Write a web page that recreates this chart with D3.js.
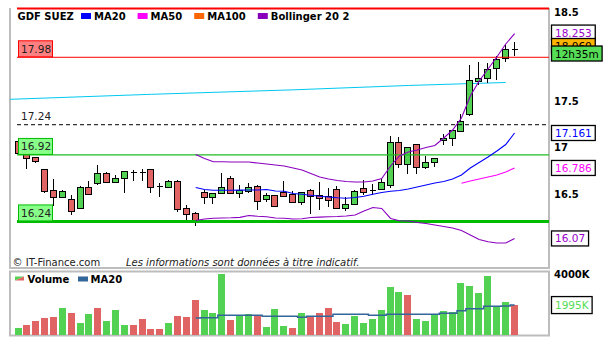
<!DOCTYPE html>
<html><head><meta charset="utf-8">
<script src="https://cdn.jsdelivr.net/npm/d3@7/dist/d3.min.js"></script>
<style>body{margin:0;background:#fff}svg{display:block}text{font-family:"DejaVu Sans",Verdana,sans-serif}</style>
</head><body><svg id="c" width="608" height="350"></svg>
<script>
// ---- data ----
const opens  = [17.070,16.938,16.895,16.766,16.540,16.468,16.443,16.346,16.572,16.621,
                16.726,16.632,16.669,16.737,16.737,16.766,16.583,16.572,16.640,16.346,
                16.292,16.518,16.464,16.508,16.669,16.508,16.532,16.586,16.443,16.486,
                16.525,16.500,16.417,16.543,16.486,16.478,16.550,16.353,16.389,16.561,
                16.543,16.550,16.597,17.062,16.819,17.034,16.787,16.841,17.077,17.099,
                17.181,17.357,17.718,17.744,17.852,17.959,18.059];
const highs  = [17.081,16.941,16.898,16.769,16.661,16.543,16.486,16.586,16.640,16.815,
                16.737,16.704,16.744,16.758,16.766,16.766,16.618,16.651,16.651,16.382,
                16.310,16.543,16.508,16.729,16.694,16.597,16.621,16.597,16.508,16.486,
                16.640,16.532,16.518,16.554,16.629,16.561,16.586,16.471,16.543,16.651,
                16.604,16.658,17.124,17.110,17.000,17.034,16.909,16.884,17.142,17.188,
                17.360,17.887,17.919,17.912,17.984,18.102,18.131];
const lows   = [16.930,16.766,16.837,16.508,16.371,16.468,16.271,16.346,16.497,16.597,
                16.626,16.626,16.508,16.643,16.643,16.514,16.471,16.572,16.310,16.185,
                16.156,16.392,16.392,16.508,16.497,16.460,16.514,16.328,16.417,16.374,
                16.482,16.411,16.385,16.282,16.328,16.357,16.339,16.320,16.389,16.489,
                16.489,16.550,16.561,16.776,16.710,16.712,16.772,16.794,17.027,17.016,
                17.170,17.339,17.672,17.697,17.726,17.923,17.984];
const closes = [16.941,16.884,16.855,16.532,16.471,16.532,16.314,16.572,16.497,16.723,
                16.626,16.669,16.744,16.737,16.737,16.578,16.583,16.640,16.342,16.282,
                16.202,16.464,16.508,16.578,16.508,16.543,16.578,16.428,16.486,16.374,
                16.482,16.411,16.518,16.482,16.460,16.435,16.353,16.389,16.532,16.525,
                16.543,16.626,17.062,16.819,17.000,16.787,16.841,16.884,17.105,17.188,
                17.285,17.726,17.744,17.841,17.952,18.056,18.059];
const volumes = [480,680,940,1140,1210,1800,1470,810,1410,1800,
                 940,1670,680,680,1080,420,420,810,1270,1210,
                 2330,1670,1470,4050,1010,1270,1410,1270,550,1740,
                 610,480,1470,1270,1470,1800,880,750,1270,810,
                 1080,1670,3190,2860,2660,1080,940,1410,1600,1540,
                 3450,3250,2790,3920,1930,2200,2000];
const volDir = "udddduduuduuudddduddduuuduuduuududddduuuuuuuduuuuuuuuuuu".split("");
// indicators start at bar 20
const indStart = 20;
const ma20 = [16.570,16.548,16.540,16.540,16.541,16.542,16.543,16.543,16.548,16.532,
              16.529,16.505,16.498,16.487,16.476,16.468,16.459,16.455,16.462,16.476,
              16.498,16.516,16.530,16.538,16.554,16.575,16.597,16.618,16.634,16.661,
              16.704,16.780,16.839,16.898,16.962,17.032,17.156];
const bollUp = [16.925,16.882,16.847,16.846,16.844,16.844,16.844,16.833,16.823,16.812,
                16.801,16.780,16.758,16.720,16.683,16.661,16.645,16.634,16.629,16.629,
                16.640,16.667,16.801,16.909,16.952,16.973,17.000,17.022,17.102,17.188,
                17.317,17.554,17.715,17.844,17.973,18.113,18.225];
const bollLow = [16.215,16.231,16.240,16.242,16.244,16.249,16.269,16.260,16.256,16.242,
                 16.239,16.231,16.234,16.247,16.251,16.256,16.258,16.263,16.274,16.317,
                 16.355,16.344,16.237,16.213,16.210,16.194,16.183,16.167,16.151,16.134,
                 16.108,16.059,16.011,15.987,15.973,15.973,16.022];
const ma50Start = 50;
const ma50 = [16.615,16.640,16.661,16.683,16.704,16.737,16.780];
const longIdx = [-1,15,31,44,55];
const longVal = [17.518,17.572,17.620,17.667,17.699];
const volMa = [1140,1160,1160,1320,1320,1320,1320,1320,1250,1250,
               1250,1250,1190,1250,1250,1250,1390,1390,1390,1390,
               1320,1320,1390,1390,1390,1390,1390,1390,1450,1450,
               1620,1760,1760,1910,1910,1930,1995];
const tickVals = [18.5,17.5,17,16.5];
const tickLabels = ["18.5","17.5","17","16.5"];
const levelLabels = ["17.98","17.24","16.92","16.24"];
const levelValues = [17.97,17.245,16.92,16.205];
const topLevel = 18.5;
const lastPrice = "18.060";
const timeLabel = "12h35m";
const volTick = 4000;
const legendNames = ["MA20","MA50","MA100","Bollinger 20 2"];

// ---- drawing ----
const svg = d3.select("#c");
const UP = "#52d152", DN = "#e06464";
const x = d3.scaleLinear().domain([0,56]).range([18.5,514.6]);
const y = d3.scaleLinear().domain([16,18.5]).range([240.5,8]);
const yv = d3.scaleLinear().domain([0,4000]).range([335.3,274.7]);
const L = 10, R = 549, T = 8, B = 268;

const defs = svg.append("defs");
defs.append("clipPath").attr("id","clip")
  .append("rect").attr("x",L).attr("y",T-2).attr("width",R-L).attr("height",B-T+2);

// borders
svg.append("path").attr("d",`M${L},${T}V${B}H${R}V${T}`).attr("fill","none")
  .attr("stroke","#bdbdbd").attr("stroke-width",2);

const plot = svg.append("g").attr("clip-path","url(#clip)");

// long MA (cyan)
const ln = d3.line().x(d=>x(d[0])).y(d=>y(d[1]));
plot.append("path").datum(longIdx.map((d,k)=>[d,longVal[k]])).attr("d",ln)
  .attr("fill","none").attr("stroke","#00c8f0").attr("stroke-width",1);

// candles
const bars = d3.range(opens.length);
const cg = plot.append("g").attr("shape-rendering","crispEdges");
bars.forEach(i=>{
  const cx = Math.round(x(i)) - 0.5;
  const o=opens[i], c=closes[i];
  cg.append("line").attr("x1",cx).attr("x2",cx).attr("y1",y(highs[i])).attr("y2",y(lows[i]))
    .attr("stroke","#000").attr("stroke-width",1);
  if (Math.abs(o-c) < 0.004) {
    cg.append("line").attr("x1",cx-3).attr("x2",cx+3).attr("y1",Math.round(y(o))+0.5).attr("y2",Math.round(y(o))+0.5)
      .attr("stroke","#000").attr("stroke-width",1.6);
  } else {
    const top = Math.round(y(Math.max(o,c)))+0.5, bot = Math.round(y(Math.min(o,c)))+0.5;
    cg.append("rect").attr("x",cx-3).attr("y",top).attr("width",6).attr("height",Math.max(1,bot-top))
      .attr("fill", c>o?UP:DN).attr("stroke","#000").attr("stroke-width",1);
  }
});

// level lines
const lvStyle = [
  {stroke:"#ff0000", w:1, dash:null},
  {stroke:"#000000", w:1, dash:"4,3"},
  {stroke:"#22bb22", w:1.2, dash:null},
  {stroke:"#00bb00", w:3, dash:null}];
plot.append("line").attr("x1",17).attr("x2",R).attr("y1",y(topLevel)+0.5).attr("y2",y(topLevel)+0.5)
  .attr("stroke","#ff0000").attr("stroke-width",2);
levelValues.forEach((v,k)=>{
  const s=lvStyle[k];
  plot.append("line").attr("x1",17).attr("x2",R).attr("y1",y(v)).attr("y2",y(v))
    .attr("stroke",s.stroke).attr("stroke-width",s.w).attr("stroke-dasharray",s.dash);
});

// bands and MAs
const seg = (arr,start)=>arr.map((v,k)=>[start+k,v]);
const lineStyle = (p,col)=>p.attr("fill","none").attr("stroke",col).attr("stroke-width",1.1);
lineStyle(plot.append("path").datum(seg(bollUp,indStart)).attr("d",ln),"#8a00c0");
lineStyle(plot.append("path").datum(seg(bollLow,indStart)).attr("d",ln),"#8a00c0");
lineStyle(plot.append("path").datum(seg(ma20,indStart)).attr("d",ln),"#0000ff");
lineStyle(plot.append("path").datum(seg(ma50,ma50Start)).attr("d",ln),"#ff00ff");

// level boxes
const boxStyle = [
  {fill:"#ff8080", stroke:"#ff0000"}, null,
  {fill:"#88ff88", stroke:"#00bb00"},
  {fill:"#88ff88", stroke:"#00bb00"}];
levelValues.forEach((v,k)=>{
  const yy = y(v);
  if (boxStyle[k]) {
    svg.append("rect").attr("x",18.5).attr("y",yy-16.5).attr("width",34).attr("height",16)
      .attr("fill",boxStyle[k].fill).attr("stroke",boxStyle[k].stroke).attr("stroke-width",1);
  }
  svg.append("text").attr("x",21).attr("y",yy-4.5).attr("font-size",10.5).attr("fill","#222").text(levelLabels[k]);
});

// y axis
const ax = svg.append("g").attr("transform",`translate(${R},0)`)
  .call(d3.axisRight(y).tickValues(tickVals).tickFormat((d,k)=>tickLabels[k]).tickSize(0).tickPadding(5));
ax.select(".domain").remove();
ax.selectAll("text").attr("font-family",'"DejaVu Sans",Verdana,sans-serif').attr("font-size",10)
  .attr("font-weight","bold").attr("fill","#000").attr("dy",d=>d===18.5?"0.76em":"0.32em");

// right value boxes
function valBox(yc, txt, col, fill, clipId){
  const g = svg.append("g");
  const r = g.append("rect").attr("x",551.5).attr("y",yc-7.5).attr("height",15)
    .attr("fill",fill).attr("stroke","#000").attr("stroke-width",1.3);
  const t = g.append("text").attr("x",555).attr("y",yc+4).attr("font-size",10.5).attr("fill",col).text(txt);
  r.attr("width", t.node().getComputedTextLength()+7);
  if (clipId) t.attr("clip-path",`url(#${clipId})`);
}
const yLast = y(closes[closes.length-1]);
defs.append("clipPath").attr("id","lastclip").append("rect")
  .attr("x",550).attr("y",yLast-12).attr("width",50).attr("height",9);
valBox(y(bollUp[bollUp.length-1])-1, d3.format(".3f")(18.253), "#9900cc", "#fff");
valBox(yLast-3, lastPrice, "#000", "#ffb400", "lastclip");
valBox(yLast+4.5, timeLabel, "#000", "#55dd55");
valBox(y(ma20[ma20.length-1]), "17.161", "#0000ff", "#fff");
valBox(y(ma50[ma50.length-1]), "16.786", "#ff00ff", "#fff");
valBox(y(bollLow[bollLow.length-1]), "16.07", "#9900cc", "#fff");

// legend
const lg = svg.append("g").attr("font-size",10).attr("font-weight","bold");
lg.append("text").attr("x",17.5).attr("y",19.5).text("GDF SUEZ");
const legCols = ["#0000ff","#ff00ff","#ff6600","#8800bb"];
let lx = 81;
legendNames.forEach((n,k)=>{
  lg.append("rect").attr("x",lx).attr("y",13).attr("width",10).attr("height",6).attr("fill",legCols[k]);
  const t = lg.append("text").attr("x",lx+13).attr("y",19.5).text(n);
  lx += 13 + t.node().getComputedTextLength() + 12;
});

// footer
svg.append("text").attr("x",12.5).attr("y",265.5).attr("font-size",10).attr("fill","#222").text("© IT-Finance.com");
svg.append("text").attr("x",126).attr("y",265.5).attr("font-size",10).attr("font-style","italic").attr("fill","#222")
  .text("Les informations sont données à titre indicatif.");

// ---- volume panel ----
svg.append("rect").attr("x",L).attr("y",271.5).attr("width",R-L).attr("height",64)
  .attr("fill","none").attr("stroke","#bdbdbd").attr("stroke-width",2);
svg.append("g").attr("shape-rendering","crispEdges").selectAll("rect").data(bars).join("rect")
  .attr("x",i=>Math.round(x(i))-4).attr("width",7)
  .attr("y",i=>yv(volumes[i])).attr("height",i=>yv(0)-yv(volumes[i]))
  .attr("fill",i=>volDir[i]==="u"?UP:DN);
svg.append("path").datum(seg(volMa,indStart))
  .attr("d",d3.line().x(d=>x(d[0])).y(d=>yv(d[1])).curve(d3.curveStep))
  .attr("fill","none").attr("stroke","#336699").attr("stroke-width",1.5);
const vax = svg.append("g").attr("transform",`translate(${R},0)`)
  .call(d3.axisRight(yv).tickValues([volTick]).tickFormat(d=>d+"K").tickSize(0).tickPadding(5));
vax.select(".domain").remove();
vax.selectAll("text").attr("font-family",'"DejaVu Sans",Verdana,sans-serif').attr("font-size",10)
  .attr("font-weight","bold").attr("fill","#000");
(function(){
  const yc = yv(volMa[volMa.length-1]);
  const r = svg.append("rect").attr("x",551.5).attr("y",yc-8.5).attr("height",17)
    .attr("fill","#fff").attr("stroke","#000").attr("stroke-width",1.3);
  const t = svg.append("text").attr("x",555).attr("y",yc+4).attr("font-size",10.5).attr("fill","#55dd55").text(volMa[volMa.length-1]+"K");
  r.attr("width", t.node().getComputedTextLength()+7);
})();
// volume legend
svg.append("path").attr("d","M15,276.5h9l-9,4z").attr("fill",UP);
svg.append("path").attr("d","M24,276.5v4h-9z").attr("fill",DN);
svg.append("text").attr("x",27.5).attr("y",282.5).attr("font-size",10).attr("font-weight","bold").text("Volume");
svg.append("rect").attr("x",78).attr("y",276.5).attr("width",10).attr("height",5).attr("fill","#336699");
svg.append("text").attr("x",90.5).attr("y",282.5).attr("font-size",10).attr("font-weight","bold").text("MA20");
</script></body></html>
